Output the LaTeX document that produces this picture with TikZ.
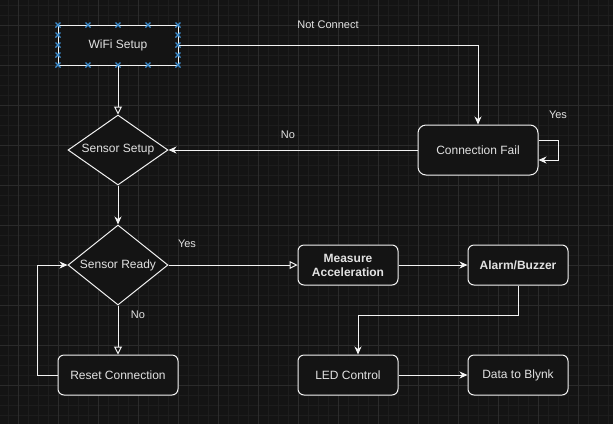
\documentclass[tikz,border=0pt]{standalone}
\usepackage{fontspec}
\setmainfont{Liberation Sans}
\usetikzlibrary{shapes.geometric,arrows.meta}
\definecolor{bgc}{HTML}{141414}
\definecolor{gridminor}{HTML}{1D1D1D}
\definecolor{gridmajor}{HTML}{2B2B2B}
\definecolor{linec}{HTML}{F2F2F2}
\definecolor{textc}{HTML}{E2E2E2}
\definecolor{handlec}{HTML}{3D8FD1}
\tikzset{
  box/.style={draw=linec, line width=1pt, fill=bgc, rounded corners=6pt, text=textc,
    font=\fontsize{12}{14}\selectfont, inner sep=0pt, align=center},
  dia/.style={draw=linec, line width=1pt, fill=bgc, shape=diamond, text=textc,
    font=\fontsize{12}{14}\selectfont, inner sep=0pt},
  conn/.style={draw=linec, line width=1pt},
  classic/.style={-{Stealth[length=8pt,width=7pt,inset=2.5pt]}},
  opentri/.style={-{Triangle[open,length=8pt,width=8pt,fill=bgc]}},
  elabel/.style={text=textc, font=\fontsize{11}{13}\selectfont, inner sep=0pt},
  handle/.style={draw=handlec, line width=1.2pt}
}
\begin{document}
\begin{tikzpicture}[x=1pt,y=-1pt]
\fill[bgc] (0,0) rectangle (613,424);
\useasboundingbox (0,0) rectangle (613,424);
% grid
\foreach \gx in {8,18,...,608} {\draw[gridminor, line width=0.6pt] (\gx,0) -- (\gx,424);}
\foreach \gy in {5,15,...,415} {\draw[gridminor, line width=0.6pt] (0,\gy) -- (613,\gy);}
\foreach \gx in {18,58,...,578} {\draw[gridmajor, line width=0.8pt] (\gx,0) -- (\gx,424);}
\foreach \gy in {25,65,...,385} {\draw[gridmajor, line width=0.8pt] (0,\gy) -- (613,\gy);}

% nodes
\node[box, rounded corners=0pt, minimum width=120pt, minimum height=40pt] (wifi) at (118,45) {WiFi Setup};
\node[dia, shape aspect=1.43, minimum width=100pt, minimum height=70pt] (ssetup) at (118,150) {Sensor Setup};
\node[box, rounded corners=8pt, minimum width=120pt, minimum height=50pt] (cfail) at (478,150) {Connection Fail};
\node[dia, shape aspect=1.25, minimum width=100pt, minimum height=80pt] (sready) at (118,265) {Sensor Ready};
\node[box, font=\fontsize{12}{14}\selectfont\bfseries, minimum width=100pt, minimum height=40pt] (measure) at (348,265) {Measure\\Acceleration};
\node[box, font=\fontsize{12}{14}\selectfont\bfseries, minimum width=100pt, minimum height=40pt] (alarm) at (518,265) {Alarm/Buzzer};
\node[box, minimum width=120pt, minimum height=40pt] (reset) at (118,375) {Reset Connection};
\node[box, minimum width=100pt, minimum height=40pt] (led) at (348,375) {LED Control};
\node[box, minimum width=100pt, minimum height=40pt] (blynk) at (518,375) {Data to Blynk};

% selection handles on WiFi Setup
\foreach \hx in {58,88,118,148,178} {
  \foreach \hy in {25,65} {
    \draw[handle] (\hx-2.5,\hy-2.5) -- (\hx+2.5,\hy+2.5) (\hx-2.5,\hy+2.5) -- (\hx+2.5,\hy-2.5);
  }
}
\foreach \hy in {35,45,55} {
  \foreach \hx in {58,178} {
    \draw[handle] (\hx-2.5,\hy-2.5) -- (\hx+2.5,\hy+2.5) (\hx-2.5,\hy+2.5) -- (\hx+2.5,\hy-2.5);
  }
}

% connectors
\draw[conn, opentri] (wifi.south) -- (ssetup.north);
\draw[conn, classic] (wifi.east) -| (cfail.north);
\node[elabel] (lnc) at (328,25) {Not Connect};
\draw[conn, classic] ([yshift=10pt]cfail.east) -- ++(20,0) -- ++(0,20) -- ([yshift=-10pt]cfail.east);
\node[elabel] (lyes1) at (558,115) {Yes};
\draw[conn, classic] (cfail.west) -- (ssetup.east);
\node[elabel] (lno1) at (288,135) {No};
\draw[conn, classic] (ssetup.south) -- (sready.north);
\draw[conn, opentri] (sready.east) -- (measure.west);
\node[elabel] (lyes2) at (187,244) {Yes};
\draw[conn, classic] (measure.east) -- (alarm.west);
\draw[conn, classic] (alarm.south) -- ++(0,30) -| ([xshift=10pt]led.north);
\draw[conn, classic] (led.east) -- (blynk.west);
\draw[conn, opentri] (sready.south) -- (reset.north);
\node[elabel] (lno2) at (138,315) {No};
\draw[conn, classic] (reset.west) -- ++(-20,0) |- (sready.west);
\end{tikzpicture}
\end{document}
